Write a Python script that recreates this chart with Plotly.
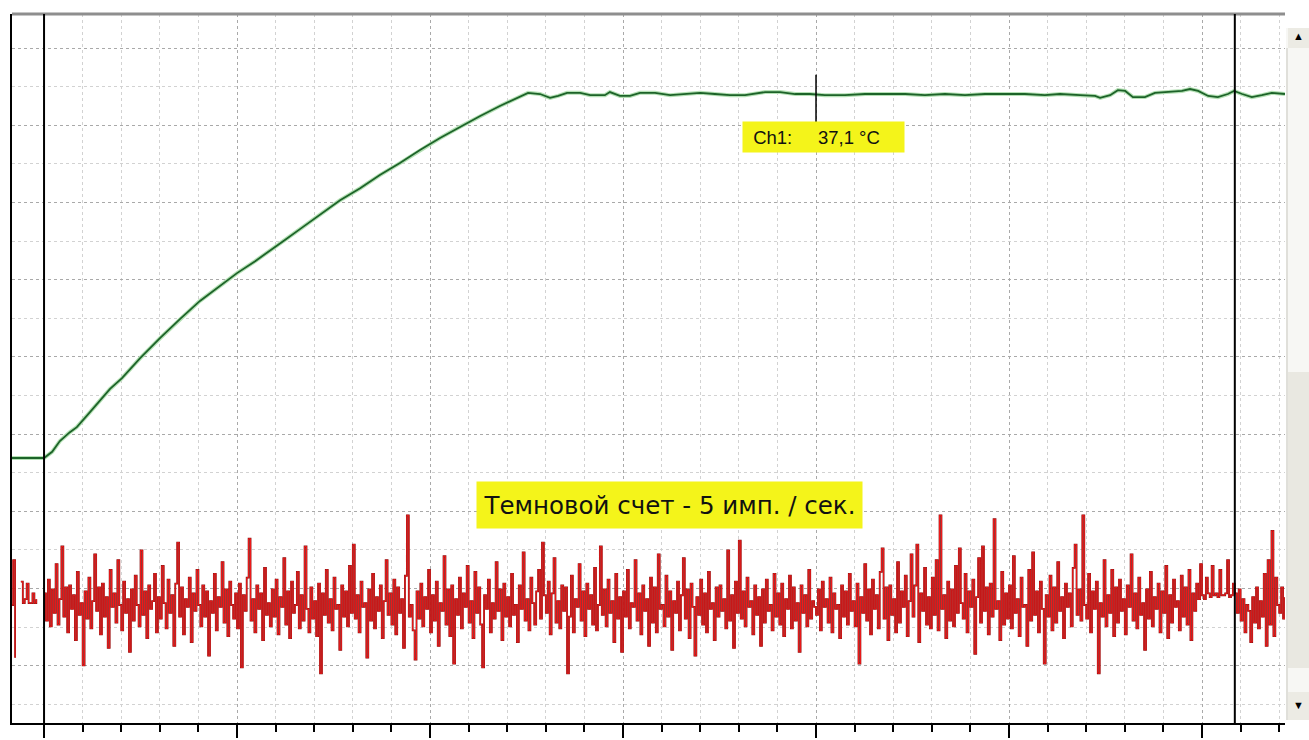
import plotly.graph_objects as go

# ---- Ch1 temperature trace (time in s, temperature in °C) ----
temp_t = [-8.3, 0.0, 2.1, 4.1, 6.7, 8.5, 11.9, 14.5, 17.1, 20.2, 24.9, 30.1, 35.2, 40.4, 45.6,
          50.0, 54.7, 58.5, 62.4, 66.3, 71.5, 76.7, 81.9, 87.0, 92.2, 97.4, 102.6, 107.8,
          113.0, 118.1, 122.0, 125.4, 128.5, 131.1, 133.2, 135.5, 138.9, 141.5, 145.3,
          146.6, 149.2, 151.8, 154.4, 158.3, 162.2, 166.1, 170.0, 173.8, 177.7, 181.6,
          186.8, 190.7, 194.6, 198.4, 202.3, 207.5, 212.7, 217.9, 223.1, 228.2, 233.4,
          238.6, 243.8, 249.0, 254.1, 259.3, 263.2, 268.4, 272.3, 273.6, 276.2, 278.2,
          280.1, 282.1, 285.2, 287.8, 291.7, 294.8, 296.9, 299.0, 301.6, 304.1, 306.7,
          308.3, 310.4, 312.9, 315.5, 318.1, 321.5]
temp_c = [27.67, 27.67, 27.83, 28.11, 28.34, 28.47, 28.86, 29.17, 29.46, 29.74, 30.26, 30.78,
          31.27, 31.74, 32.13, 32.46, 32.77, 33.03, 33.32, 33.60, 33.97, 34.35, 34.66, 35.00,
          35.31, 35.65, 35.96, 36.25, 36.53, 36.79, 36.97, 37.13, 37.10, 37.00, 37.05, 37.13,
          37.13, 37.07, 37.07, 37.15, 37.05, 37.05, 37.13, 37.13, 37.07, 37.10, 37.13, 37.10,
          37.07, 37.07, 37.15, 37.15, 37.10, 37.10, 37.07, 37.07, 37.10, 37.10, 37.10, 37.07,
          37.10, 37.07, 37.10, 37.10, 37.10, 37.07, 37.10, 37.07, 37.05, 37.00, 37.07, 37.20,
          37.18, 37.02, 37.02, 37.13, 37.15, 37.18, 37.23, 37.18, 37.05, 37.02, 37.10, 37.18,
          37.10, 37.02, 37.07, 37.13, 37.10]

# ---- dark count trace (pulses), one sample every 0.5 s ----
pre_t = [-8.3, -8.0, -7.5, -7.0, -6.0, -5.5, -5.0, -4.5, -4.0, -3.5, -3.0, -2.5, -2.0, -1.5]
pre_counts = [5.0, 7.3, 2.3, None, 6.2, 5.1, 5.3, 6.1, 5.1, 5.1, 5.6, 5.1, 5.3, None]
count_step = 0.5
counts = [
    5.6, 4.2, 6.3, 3.9, 5.8, 4.6, 7.1, 4.0, 5.3, 8.0, 4.4, 5.9, 3.6, 6.0, 4.8, 5.5, 3.2, 6.7, 4.5, 5.1,
    1.9, 5.7, 4.3, 6.4, 3.8, 5.2, 7.6, 4.7, 5.9, 3.5, 6.1, 4.4, 5.4, 2.8, 6.8, 4.9, 5.6, 4.1, 7.3, 5.0,
    3.7, 6.2, 4.6, 5.3, 2.6, 5.8, 4.2, 6.5, 5.0, 3.9, 7.8, 4.5, 5.7, 3.3, 6.0, 4.8, 5.2, 6.6, 3.6, 5.4,
    4.3, 7.0, 5.1, 3.8, 6.3, 4.6, 5.5, 2.9, 6.1, 8.2, 4.4, 5.9, 3.5, 5.3, 4.9, 6.4, 3.1, 5.6, 4.7, 6.8,
    5.0, 3.9, 6.0, 4.4, 5.7, 2.4, 5.2, 4.6, 6.6, 3.7, 5.4, 4.9, 7.2, 4.1, 5.8, 3.4, 6.2, 5.0, 4.3, 5.6,
    3.8, 6.1, 1.8, 5.5, 4.7, 6.4, 8.4, 4.2, 5.3, 3.6, 6.0, 4.8, 5.6, 3.2, 6.9, 4.5, 5.1, 3.9, 5.8, 4.4,
    6.3, 3.5, 5.4, 4.9, 7.4, 4.0, 5.7, 3.3, 6.2, 4.6, 5.0, 6.7, 3.8, 5.5, 4.2, 8.0, 4.8, 3.6, 5.9, 4.3,
    5.2, 3.4, 6.1, 1.5, 5.6, 4.5, 6.8, 4.1, 5.3, 3.7, 6.4, 4.8, 5.0, 2.7, 6.0, 4.4, 5.7, 3.9, 7.0, 4.6,
    8.1, 4.3, 5.5, 3.6, 6.2, 4.9, 5.1, 2.3, 5.8, 4.2, 6.6, 3.8, 5.4, 4.7, 6.0, 3.3, 5.2, 7.3, 4.5, 5.6,
    4.0, 6.3, 3.5, 5.9, 4.6, 5.3, 2.8, 6.5, 9.6, 4.4, 5.0, 3.7, 2.2, 5.7, 4.3, 6.1, 3.9, 5.4, 4.8, 6.8,
    3.6, 5.5, 4.2, 6.2, 2.9, 5.1, 4.7, 7.5, 4.0, 5.8, 3.4, 6.0, 2.0, 5.3, 4.5, 6.4, 3.8, 5.6, 4.9, 7.0,
    4.1, 5.2, 3.3, 6.7, 4.6, 5.9, 4.0, 1.8, 5.5, 4.8, 6.3, 3.6, 5.1, 4.3, 7.2, 4.7, 5.8, 3.2, 6.1, 4.4,
    5.4, 3.9, 6.6, 4.5, 5.0, 3.1, 6.0, 4.8, 7.7, 4.2, 5.3, 3.7, 6.4, 5.1, 4.0, 5.7, 6.8, 4.3, 8.2, 5.5,
    4.6, 6.2, 3.5, 5.6, 7.4, 4.1, 5.2, 3.8, 6.0, 4.7, 5.9, 1.5, 4.4, 6.5, 3.6, 5.3, 4.9, 7.1, 4.2, 5.7,
    3.4, 6.1, 4.8, 5.5, 4.0, 6.9, 3.7, 5.0, 8.0, 4.5, 5.8, 3.9, 6.3, 4.6, 5.2, 3.1, 6.6, 4.3, 5.4, 2.6,
    5.7, 4.4, 6.8, 3.8, 5.1, 4.9, 7.3, 4.2, 5.6, 3.5, 6.0, 4.7, 5.3, 2.9, 6.4, 4.1, 5.9, 3.6, 7.6, 4.8,
    5.0, 3.9, 6.5, 4.4, 5.7, 2.7, 5.2, 4.6, 6.2, 3.7, 5.5, 7.4, 4.3, 5.8, 3.3, 6.1, 4.9, 2.4, 5.4, 4.5,
    6.3, 4.0, 5.6, 3.6, 6.7, 4.8, 5.1, 3.2, 5.9, 4.4, 6.0, 4.7, 5.3, 3.8, 7.8, 4.2, 5.5, 2.8, 6.2, 4.6,
    8.3, 4.3, 5.7, 3.9, 6.4, 4.9, 5.2, 3.5, 6.0, 4.5, 5.4, 2.9, 5.8, 4.1, 6.3, 4.7, 5.0, 3.7, 6.6, 4.4,
    5.6, 4.0, 6.1, 3.4, 5.3, 4.8, 6.5, 3.8, 5.9, 4.2, 5.1, 2.6, 6.0, 4.6, 5.5, 3.9, 6.8, 4.3, 5.2, 4.9,
    4.5, 5.8, 3.7, 6.2, 4.9, 5.3, 4.1, 6.4, 3.6, 5.6, 4.8, 5.0, 3.3, 6.0, 4.4, 5.7, 4.0, 6.6, 4.7, 5.2,
    3.9, 6.1, 2.0, 5.4, 4.6, 7.1, 4.2, 5.8, 3.5, 6.3, 4.8, 5.5, 3.8, 6.7, 7.9, 4.3, 5.9, 3.2, 6.0, 4.5,
    5.3, 3.6, 7.2, 4.1, 5.7, 4.9, 6.5, 3.4, 5.2, 7.6, 4.4, 6.0, 8.1, 3.1, 5.6, 4.7, 6.9, 4.0, 5.4, 3.8,
    6.4, 4.5, 7.3, 3.7, 9.6, 4.8, 5.5, 3.3, 6.2, 4.2, 5.8, 3.9, 7.0, 4.6, 7.9, 5.1, 4.3, 6.6, 3.6, 5.7,
    4.9, 6.3, 2.5, 5.4, 7.4, 4.1, 8.0, 4.7, 5.9, 3.5, 6.1, 4.4, 9.4, 4.8, 5.2, 3.2, 6.7, 4.0, 5.6, 4.3,
    6.0, 3.8, 7.5, 4.6, 5.3, 3.4, 6.4, 4.9, 5.0, 2.9, 6.8, 4.2, 7.7, 4.5, 5.7, 3.6, 6.2, 4.8, 2.0, 5.5,
    4.4, 6.5, 3.7, 5.9, 4.1, 7.2, 4.7, 5.4, 3.3, 6.1, 4.9, 5.6, 3.9, 6.9, 8.1, 4.5, 5.8, 4.2, 9.6, 5.0,
    4.3, 6.6, 3.6, 5.7, 4.8, 6.2, 1.5, 5.1, 4.4, 7.3, 3.9, 5.5, 4.6, 6.8, 3.4, 5.9, 4.1, 6.3, 4.7, 5.3,
    3.5, 6.0, 4.9, 7.6, 4.2, 5.6, 3.8, 6.4, 4.5, 5.1, 2.7, 5.8, 4.3, 6.7, 3.9, 5.4, 4.8, 6.1, 3.6, 5.7,
    4.6, 7.0, 3.3, 5.5, 4.1, 6.3, 4.9, 5.2, 3.7, 6.5, 4.4, 5.9, 4.0, 6.8, 3.2, 5.6, 4.7, 6.1, 5.3, 7.1,
    5.5, 5.3, 6.4, 5.6, 5.4, 7.0, 5.5, 5.6, 5.4, 6.8, 5.5, 5.5, 5.6, 7.3, 5.4, 5.5, 6.1, 5.6, 4.6, 5.8,
    4.2, 5.3, 3.6, 5.0, 4.7, 3.1, 5.4, 4.1, 5.9, 3.8, 5.2, 4.4, 6.6, 2.9, 7.3, 4.0, 8.8, 3.4, 6.4, 5.0,
    4.6, 5.9, 4.3, 5.4,
]
count_t = pre_t + [i * count_step for i in range(len(counts))]
count_v = pre_counts + counts

# cursors / readout
cursor_a_t = 0.0
cursor_b_t = 308.5
readout_t = 200.0
readout_value = 37.1
readout_text = "\u00a0Ch1:" + "\u00a0" * 5 + "37,1 °C"
dark_text = "Темновой счет - 5 имп. / сек."

# axis ranges
t_range = [-8.3, 321.5]
temp_range = [20.805, 39.173]
count_range = [-1.051, 35.31]

fig = go.Figure()

fig.add_trace(go.Scatter(x=count_t, y=count_v, yaxis="y2", mode="lines",
                         line=dict(color="#861616", width=1.8, shape="hv"),
                         hoverinfo="skip", showlegend=False))
fig.add_trace(go.Scatter(x=count_t, y=count_v, yaxis="y2", mode="lines",
                         line=dict(color="#f21a1a", width=1.0, shape="hv"),
                         showlegend=False))
fig.add_trace(go.Scatter(x=temp_t, y=temp_c, mode="lines",
                         line=dict(color="#b4e0b4", width=4),
                         hoverinfo="skip", showlegend=False))
fig.add_trace(go.Scatter(x=temp_t, y=temp_c, mode="lines",
                         line=dict(color="#1d6329", width=1.8),
                         showlegend=False))

fig.update_layout(
    width=1309, height=740,
    margin=dict(l=12, r=24, t=14, b=17, pad=0, autoexpand=False),
    paper_bgcolor="white", plot_bgcolor="white",
    showlegend=False,
    font=dict(family="Liberation Sans, Arial, sans-serif", color="black"),
    xaxis=dict(range=t_range, showline=True, linecolor="black", linewidth=2,
               zeroline=False, showticklabels=False, automargin=False,
               tick0=0, dtick=50, ticks="outside", ticklen=13, tickwidth=2, tickcolor="black",
               showgrid=True, gridcolor="#a9a9a9", gridwidth=1, griddash="dot",
               minor=dict(tick0=0, dtick=10, ticks="outside", ticklen=7, tickwidth=2,
                          tickcolor="black", showgrid=True, gridcolor="#d2d2d2",
                          gridwidth=1, griddash="dot")),
    yaxis=dict(range=temp_range, showline=True, linecolor="black", linewidth=2,
               zeroline=False, showticklabels=False, ticks="", automargin=False,
               tick0=38.29, dtick=2,
               showgrid=True, gridcolor="#a9a9a9", gridwidth=1, griddash="dot",
               minor=dict(tick0=38.29, dtick=1, showgrid=True, gridcolor="#d2d2d2",
                          gridwidth=1, griddash="dot")),
    yaxis2=dict(range=count_range, overlaying="y", visible=False, showgrid=False,
                automargin=False),
)

# top window border
fig.add_shape(type="line", xref="paper", yref="paper", x0=0, x1=1, y0=1, y1=1,
              line=dict(color="#8e8e8e", width=3), layer="above")
# cursor lines
for ct in (cursor_a_t, cursor_b_t):
    fig.add_shape(type="line", xref="x", yref="paper", x0=ct, x1=ct, y0=0, y1=1,
                  line=dict(color="black", width=2), layer="above")
fig.add_shape(type="line", xref="x", yref="y", x0=readout_t, x1=readout_t,
              y0=readout_value + 0.5, y1=readout_value - 0.8,
              line=dict(color="black", width=1.5), layer="above")

# scrollbar (decoration)
px = 1 / 1273.0
py = 1 / 709.0
sx0, sx1 = 1 + 1 * px, 1 + 24 * px


def yp(ypix):
    return (723 - ypix) * py


fig.add_shape(type="rect", xref="paper", yref="paper", x0=sx0, x1=sx1, y0=yp(720), y1=yp(28),
              fillcolor="#f7f7f4", line=dict(width=0), layer="above")
fig.add_shape(type="rect", xref="paper", yref="paper", x0=1 + 3 * px, x1=sx1, y0=yp(48), y1=yp(28),
              fillcolor="#ecebe4", line=dict(width=0), layer="above")
fig.add_shape(type="rect", xref="paper", yref="paper", x0=1 + 3 * px, x1=sx1, y0=yp(668), y1=yp(372),
              fillcolor="#e9e8e1", line=dict(width=0), layer="above")
fig.add_shape(type="rect", xref="paper", yref="paper", x0=1 + 3 * px, x1=sx1, y0=yp(720), y1=yp(692),
              fillcolor="#ecebe4", line=dict(width=0), layer="above")
fig.add_shape(type="line", xref="paper", yref="paper", x0=1 + 2 * px, x1=1 + 2 * px, y0=yp(720), y1=yp(48),
              line=dict(color="#c9c8c0", width=1), layer="above")
fig.add_annotation(xref="paper", yref="paper", x=1 + 13 * px, y=yp(36), text="▲", showarrow=False,
                   font=dict(size=11, color="black"), xanchor="center", yanchor="middle")
fig.add_annotation(xref="paper", yref="paper", x=1 + 13 * px, y=yp(705), text="▼", showarrow=False,
                   font=dict(size=11, color="black"), xanchor="center", yanchor="middle")

# readout labels
fig.add_annotation(x=180.8, y=35.99, xref="x", yref="y", text=readout_text, showarrow=False,
                   xanchor="left", yanchor="middle", align="left",
                   bgcolor="#f4f41a", borderpad=5, width=151, height=20,
                   font=dict(size=18.5, color="#111111", family="Liberation Sans, Arial"))
fig.add_annotation(x=162.0, y=10.13, xref="x", yref="y2", text=dark_text, showarrow=False,
                   xanchor="center", yanchor="middle",
                   bgcolor="#f4f41a", borderpad=6, width=373, height=34,
                   font=dict(size=24.5, color="#111111", family="DejaVu Sans, Verdana, sans-serif"))

fig.write_html("out.html", config={"displayModeBar": False},
               post_script="document.body.style.margin='0';document.body.style.overflow='hidden';")
